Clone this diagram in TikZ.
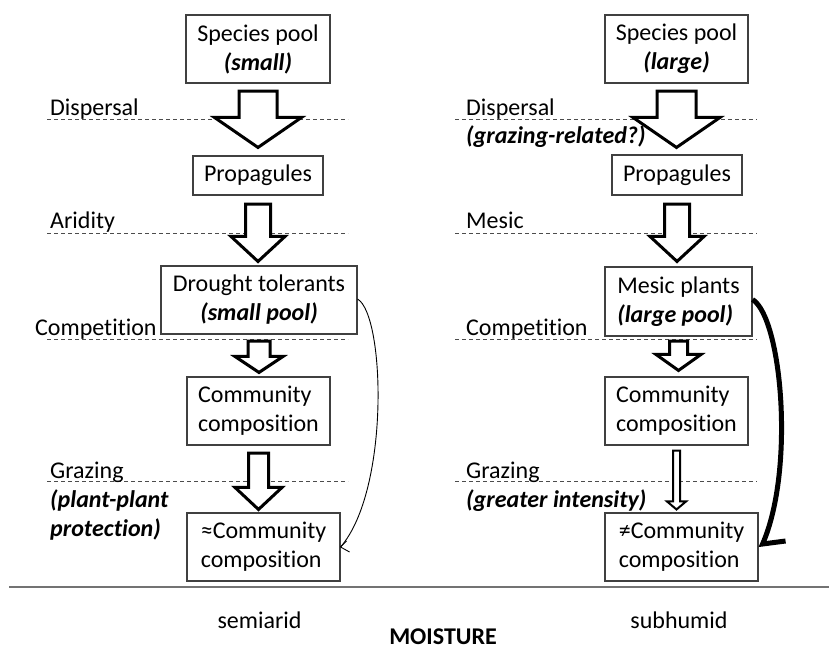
\documentclass[tikz,border=0pt]{standalone}
\usepackage{fontspec}
\setmainfont{Carlito}[Ligatures=NoCommon]
\usetikzlibrary{calc}
\newcommand\fs{\fontsize{24}{29}\selectfont}
\tikzset{
  box/.style={draw=black!75, line width=1.1pt, inner sep=0pt, font=\fs, align=center},
  lab/.style={anchor=base west, inner sep=0pt, font=\fs},
  labbi/.style={anchor=base west, inner sep=0pt, font=\fs\bfseries\itshape},
  foot/.style={anchor=base, inner sep=0pt, font=\fs},
  dline/.style={dash pattern=on 4pt off 3pt, draw=black!70, line width=0.9pt},
  fat/.style={draw=black, line join=miter, fill=white},
}
% from, to, topgap, botgap, shaft half, head half, head length, line width
\newcommand\fatarrow[8]{%
  \draw[fat, line width=#8pt] let \p1=(#1.south), \p2=(#2.north) in
   (\x1-#5pt,\y1-#3pt) -- (\x1-#5pt,\y2+#4pt+#7pt) -- (\x1-#6pt,\y2+#4pt+#7pt)
   -- (\x1,\y2+#4pt) -- (\x1+#6pt,\y2+#4pt+#7pt) -- (\x1+#5pt,\y2+#4pt+#7pt)
   -- (\x1+#5pt,\y1-#3pt) -- cycle;}
\begin{document}
\begin{tikzpicture}[x=1pt,y=-1pt]
\useasboundingbox[fill=white] (0,0) rectangle (829,651);

% dashed level lines
\draw[dline] (47,119) -- (348,119);
\draw[dline] (47,233) -- (348,233);
\draw[dline] (47,339) -- (348,339);
\draw[dline] (47,481) -- (348,481);
\draw[dline] (455,119) -- (757,119);
\draw[dline] (455,233) -- (757,233);
\draw[dline] (455,339) -- (757,339);
\draw[dline] (455,481) -- (757,481);

% left column boxes
\node[box, minimum width=144pt, minimum height=68pt] (sp1) at (258,49) {Species pool\\\textbf{\textit{(small)}}};
\node[box, minimum width=130pt, minimum height=39pt] (pr1) at (258,175.5) {Propagules};
\node[box, minimum width=196pt, minimum height=68pt] (dt) at (259,300) {Drought tolerants\\\textbf{\textit{(small pool)}}};
\node[box, align=left, minimum width=143pt, minimum height=68pt] (cc1) at (258.5,411) {Community\\composition};
\node[box, align=left, minimum width=153pt, minimum height=68pt] (cc2) at (263.5,547) {≈Community\\composition};

% right column boxes
\node[box, minimum width=143pt, minimum height=68pt] (sp2) at (676.5,49) {Species pool\\\textbf{\textit{(large)}}};
\node[box, minimum width=130pt, minimum height=40pt] (pr2) at (677,175) {Propagules};
\node[box, align=left, minimum width=147pt, minimum height=69pt] (mp) at (678.5,301.5) {Mesic plants\\\textbf{\textit{(large pool)}}};
\node[box, align=left, minimum width=143pt, minimum height=68pt] (cc3) at (676.5,411) {Community\\composition};
\node[box, align=left, minimum width=153pt, minimum height=68pt] (cc4) at (681.5,547) {≠Community\\composition};

% labels left
\node[lab] (l1) at (50,115) {Dispersal};
\node[lab] (l2) at (50,228) {Aridity};
\node[lab] (l3) at (35,335) {Competition};
\node[lab] (l4) at (50,478) {Grazing};
\node[labbi] (l5) at (50,507) {(plant-plant};
\node[labbi] (l6) at (50,536) {protection)};

% labels right
\node[lab] (r1) at (466,115) {Dispersal};
\node[labbi] (r1b) at (466,143) {(grazing-related?)};
\node[lab] (r2) at (466,228) {Mesic};
\node[lab] (r3) at (466,335) {Competition};
\node[lab] (r4) at (466,478) {Grazing};
\node[labbi] (r5) at (466,507) {(greater intensity)};

% fat arrows
\fatarrow{sp1}{pr1}{7.5}{8}{19}{43.5}{30}{3}
\fatarrow{pr1}{dt}{8.5}{4}{12.5}{27}{25}{3}
\fatarrow{dt}{cc1}{6.5}{4}{11}{24}{16}{3}
\fatarrow{cc1}{cc2}{7.5}{3}{10}{23.5}{22}{3}
\fatarrow{sp2}{pr2}{7.5}{7}{19.5}{43.5}{30}{3}
\fatarrow{pr2}{mp}{8.5}{5}{12.5}{27}{25}{3}
\fatarrow{mp}{cc3}{4.5}{6}{9}{22.5}{16}{3}
\fatarrow{cc3}{cc4}{5}{3}{3.5}{9.5}{8}{2}

% thin curved arrow (semiarid)
\draw[line width=0.9pt] ($(dt.east)+(0,-1)$) .. controls (385,315) and (390,490) .. (cc2.east);
\draw[line width=0.9pt] (cc2.east) -- ++(6,-6) (cc2.east) -- ++(9,5);

% thick curved connector (subhumid)
\draw[line width=5pt, line join=miter] ($(mp.east)+(0,-2)$) .. controls (782,318) and (795,470) .. ($(cc4.east)+(4,-3)$) -- ++(23,-3);

% axis
\draw[draw=black!55, line width=1.4pt] (9,587) coordinate (ax0) -- (829,587) coordinate (ax1);
\node[foot] (semi) at (259.5,628) {semiarid};
\node[foot] (subh) at (679,628) {subhumid};
\node[foot, font=\fs\bfseries] (moist) at (443,644) {MOISTURE};
\end{tikzpicture}
\end{document}
